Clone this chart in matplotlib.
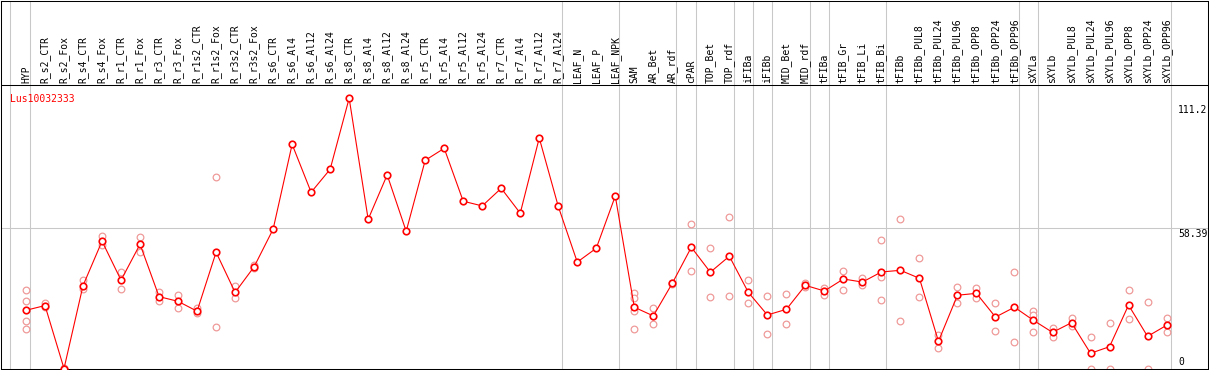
import numpy as np
import matplotlib
matplotlib.use("Agg")
from matplotlib import pyplot as plt

# sample names along the top
samples = ["HYP", "R_s2_CTR", "R_s2_Fox", "R_s4_CTR", "R_s4_Fox", "R_r1_CTR", "R_r1_Fox",
           "R_r3_CTR", "R_r3_Fox", "R_r1s2_CTR", "R_r1s2_Fox", "R_r3s2_CTR", "R_r3s2_Fox",
           "R_s6_CTR", "R_s6_Al4", "R_s6_Al12", "R_s6_Al24", "R_s8_CTR", "R_s8_Al4",
           "R_s8_Al12", "R_s8_Al24", "R_r5_CTR", "R_r5_Al4", "R_r5_Al12", "R_r5_Al24",
           "R_r7_CTR", "R_r7_Al4", "R_r7_Al12", "R_r7_Al24", "LEAF_N", "LEAF_P", "LEAF_NPK",
           "SAM", "AR_Bet", "AR_rdf", "cPAR", "TOP_Bet", "TOP_rdf", "iFIBa", "iFIBb",
           "MID_Bet", "MID_rdf", "tFIBa", "tFIB_Gr", "tFIB_Li", "tFIB_Bi", "tFIBb",
           "tFIBb_PUL8", "tFIBb_PUL24", "tFIBb_PUL96", "tFIBb_OPP8", "tFIBb_OPP24",
           "tFIBb_OPP96", "sXYLa", "sXYLb", "sXYLb_PUL8", "sXYLb_PUL24", "sXYLb_PUL96",
           "sXYLb_OPP8", "sXYLb_OPP24", "sXYLb_OPP96"]

# mean expression per sample
means = [23.5, 25.5, -1.3, 34.0, 52.9, 36.3, 51.6, 29.3, 27.3, 23.1, 48.2, 31.1, 42.0,
         58.0, 94.1, 73.7, 83.5, 113.7, 62.2, 81.1, 57.1, 87.3, 92.4, 69.9, 67.9,
         75.4, 64.8, 96.8, 67.7, 44.0, 49.9, 72.1,
         24.8, 21.1, 35.0, 50.3, 39.7, 46.5, 31.1, 21.5, 23.9, 34.1, 31.7, 36.8, 35.5,
         39.8, 40.5, 37.1, 10.3, 29.9, 30.7, 20.6, 24.8, 19.2, 14.1, 18.2, 5.2, 8.0,
         25.7, 12.4, 17.1]

# individual replicates (empty where there are none)
replicates = [[32.1, 27.3, 18.8, 15.4], [26.4, 24.7], [-1.4, -1.2], [36.4, 32.4],
              [55.2, 51.3], [39.8, 32.4], [54.6, 48.2], [31.1, 27.6], [30.0, 24.6],
              [24.6, 22.2], [80.1, 16.5], [34.0, 28.9], [42.8, 41.5],
              [], [], [], [], [], [], [], [], [], [], [], [], [], [], [], [], [], [], [],
              [31.0, 28.7, 23.3, 15.5], [24.5, 17.5], [35.3, 34.7], [60.1, 40.2],
              [49.9, 29.0], [63.1, 29.4], [36.4, 26.5], [29.4, 13.4], [30.3, 17.5],
              [34.9, 33.4], [33.1, 30.0], [40.2, 32.0], [37.4, 34.1], [53.3, 37.5, 27.9],
              [62.2, 18.8], [45.6, 29.1], [13.0, 7.3], [33.4, 26.5], [33.1, 28.7],
              [26.5, 14.6], [39.7, 9.9], [23.2, 21.5, 14.1], [16.1, 12.0], [20.3, 16.8],
              [12.0, -1.5], [18.1, -1.5], [32.0, 19.8], [26.9, -1.5], [20.1, 14.1]]

# last sample index of each tissue group (vertical separators)
group_ends = [-1, 0, 28, 31, 34, 35, 37, 38, 39, 41, 42, 45, 52, 53, 60]

scale_labels = ["0", "58.39", "111.2"]
scale_values = [0, 58.39, 111.2]
mid_line = 58.39
gene_id = "Lus10032333"

RED = "#ff0000"
PINK = "#f09a9a"
GRAY = "#c8c8c8"
MONO = "DejaVu Sans Mono"

fig = plt.figure(figsize=(12.09, 3.70), dpi=100)
ax = fig.add_axes([1/1209, 1/370, 1207/1209, 368.5/370])
ax.set_xlim(-1.315, 62.18)
ax.set_ylim(-1.49, 155.3)
header_y = 119.4
ax.set_xticks([])
ax.set_yticks([])
for s in ax.spines.values():
    s.set_linewidth(0.75)
    s.set_color("black")

# separators
for g in group_ends:
    off = 0.16 if g < 0 else 0.22
    ax.axvline(g + off, color=GRAY, lw=0.75, zorder=1)
ax.axhline(mid_line, color=GRAY, lw=0.75, zorder=1)
ax.axhline(header_y, color="black", lw=0.75, zorder=5)

x = np.arange(len(samples))

# replicates
rx, ry = [], []
for i, reps in enumerate(replicates):
    for v in reps:
        rx.append(i)
        ry.append(v)
ax.plot(rx, ry, ls="none", marker="o", ms=4.8, mew=0.9, mec=PINK, mfc="white", zorder=2)

# mean line
ax.plot(x, means, color=RED, lw=0.8, zorder=3)
ax.plot(x, means, ls="none", marker="o", ms=4.7, mew=1.2, mec=RED, mfc="white", zorder=4)

# header labels
for i, name in enumerate(samples):
    ax.text(i, 120.2, name, rotation=90, ha="center", va="bottom",
            fontsize=7, family=MONO, color="black")

# scale labels on the right
for lab, v in zip(scale_labels, scale_values):
    yy = max(v - 0.3, 3.6)
    ax.text(len(samples) - 1 + 0.6, yy, lab, ha="left", va="top",
            fontsize=7, family=MONO, color="black")

ax.text(-0.84, 115.5, gene_id, ha="left", va="top", fontsize=7, family=MONO, color=RED)

fig.savefig("out.png", dpi=100)
